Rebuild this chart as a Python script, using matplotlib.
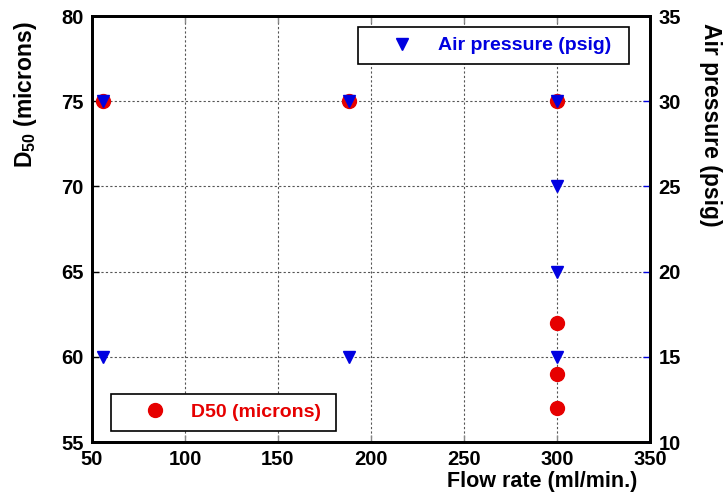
import matplotlib
matplotlib.use("Agg")
import matplotlib.pyplot as plt

plt.rcParams['font.family'] = ['Liberation Sans', 'DejaVu Sans']
plt.rcParams['font.weight'] = 'bold'
plt.rcParams['mathtext.fontset'] = 'custom'
plt.rcParams['mathtext.rm'] = 'Liberation Sans:bold'
plt.rcParams['mathtext.bf'] = 'Liberation Sans:bold'
plt.rcParams['mathtext.it'] = 'Liberation Sans:bold'

# Data
d50_flow = [56, 188, 300, 300, 300, 300]
d50_values = [75, 75, 75, 62, 59, 57]
air_flow = [56, 56, 188, 188, 300, 300, 300, 300]
air_values = [30, 15, 30, 15, 30, 25, 20, 15]

x_ticks = [50, 100, 150, 200, 250, 300, 350]
left_ticks = [55, 60, 65, 70, 75, 80]
right_ticks = [10, 15, 20, 25, 30, 35]

RED = '#e60000'
BLUE = '#0000e0'

fig = plt.figure(figsize=(7.28, 4.95), dpi=100)
ax1 = fig.add_axes([92/728, 1-442/495, 558/728, 426/495])
ax2 = ax1.twinx()

ax1.plot(d50_flow, d50_values, linestyle='none', marker='o', markersize=10,
         color=RED, label='D50 (microns)')
ax2.plot(air_flow, air_values, linestyle='none', marker='v', markersize=9,
         color=BLUE, label='Air pressure (psig)')

ax1.set_xlim(50, 350)
ax1.set_ylim(55, 80)
ax2.set_ylim(10, 35)
ax1.set_xticks(x_ticks)
ax1.set_yticks(left_ticks)
ax2.set_yticks(right_ticks)

ax1.grid(True, linestyle=(0, (2, 2)), color='#555555', linewidth=0.8)
ax1.set_axisbelow(True)

for ax in (ax1, ax2):
    for s in ax.spines.values():
        s.set_linewidth(2)
        s.set_color('black')

ax1.tick_params(axis='x', direction='in', length=5, width=1, color='#888888',
                labelsize=14.5, pad=6, top=True)
ax1.tick_params(axis='y', direction='in', length=5, width=1, color='black',
                labelsize=14.5, pad=6)
ax2.tick_params(axis='y', direction='in', length=5, width=1, color=BLUE,
                labelsize=14.5, pad=6)
for lab in ax1.get_xticklabels() + ax1.get_yticklabels() + ax2.get_yticklabels():
    lab.set_fontweight('bold')

ax1.set_xlabel('Flow rate (ml/min.)', fontsize=15.5, fontweight='bold', va='center')
ax1.xaxis.set_label_coords(0.807, -0.093)
ax1.set_ylabel(r'$\mathrm{D_{50}}$ (microns)', fontsize=16.5, fontweight='bold', va='center')
ax1.yaxis.set_label_coords(-0.12, 0.815)
ax2.set_ylabel('Air pressure (psig)', fontsize=16.5, fontweight='bold', rotation=270,
               va='center')
ax2.yaxis.set_label_coords(1.109, 0.744)

leg_kw = dict(fontsize=14, handlelength=3.5, handletextpad=0.1, borderpad=0.5,
              fancybox=False, framealpha=1, edgecolor='black', mode='expand',
              borderaxespad=0, numpoints=1)
leg1 = ax1.legend(loc='lower left', bbox_to_anchor=(0.034, 0.026, 0.403, 0.098), **leg_kw)
leg2 = ax2.legend(loc='upper left', bbox_to_anchor=(0.477, 0.876, 0.485, 0.098), **leg_kw)
for leg, c in ((leg1, RED), (leg2, BLUE)):
    leg.get_frame().set_linewidth(1.2)
    for t in leg.get_texts():
        t.set_color(c)
        t.set_fontweight('bold')

fig.savefig('out.png', dpi=100)
